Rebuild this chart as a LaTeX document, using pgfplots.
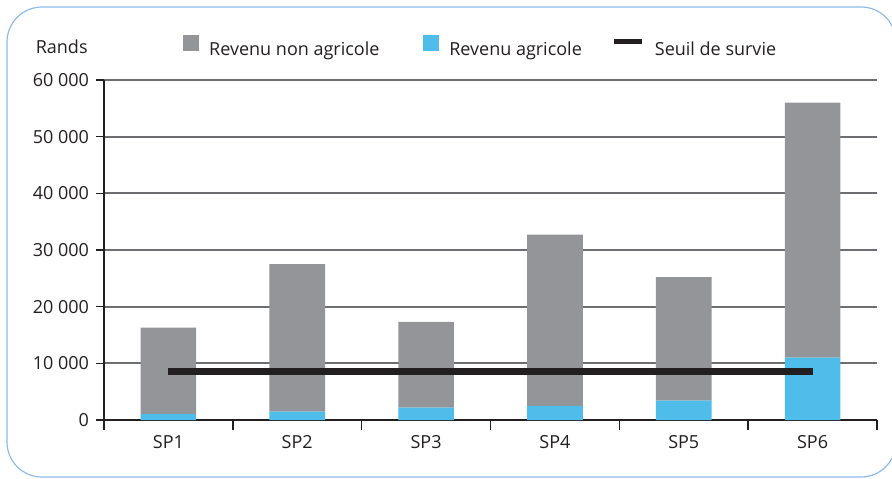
\documentclass[border=0pt]{standalone}
\usepackage{fontspec}
\setmainfont{Open Sans}
\usepackage{pgfplots}
\usepackage{pgfplotstable}
\pgfplotsset{compat=1.18}

\definecolor{nonagri}{HTML}{939598}
\definecolor{agri}{HTML}{4FBDE9}
\definecolor{seuil}{HTML}{231F20}
\definecolor{grille}{HTML}{6D6E71}
\definecolor{cadre}{HTML}{8DBCE8}

% revenus par systeme de production (rands)
\pgfplotstableread{
x lab agri nonagri
0 SP1 1100 15200
1 SP2 1500 26000
2 SP3 2200 15100
3 SP4 2500 30200
4 SP5 3400 21800
5 SP6 11000 45000
}\revenus

\begin{document}
\begin{tikzpicture}[font=\fontsize{9}{10.5}\selectfont, text=seuil]
\useasboundingbox (0,0) rectangle (446pt,239pt);
\clip (0,0) rectangle (446pt,239pt);
\draw[overlay, cadre, line width=0.6pt, rounded corners=17.5pt]
  (448pt,190pt) -- (448pt,235.5pt) -- (3.5pt,235.5pt) -- (3.5pt,0.5pt) -- (448pt,0.5pt) -- (448pt,50pt);

\begin{axis}[
 at={(52pt,29pt)}, anchor=south west,
 scale only axis, width=386.5pt, height=170pt,
 xmin=-0.5, xmax=5.5, ymin=0, ymax=60000,
 ybar stacked, bar width=0.432,
 axis lines*=left,
 axis line style={seuil, line width=0.75pt},
 tick align=outside, major tick length=4pt, minor tick length=5pt,
 tick style={seuil, line width=0.75pt},
 xtick={0,...,5}, xticklabels from table={\revenus}{lab},
 major x tick style={draw=none},
 minor xtick={-0.5,0.5,1.5,2.5,3.5,4.5,5.5},
 ytick={0,10000,...,60000},
 scaled y ticks=false,
 yticklabel style={/pgf/number format/.cd, fixed, 1000 sep={\ }, assume math mode=true},
 ymajorgrids, grid style={grille, line width=0.85pt},
 every axis y label/.style={at={(axis description cs:-0.0207,1.079)}, anchor=base east, inner sep=0pt},
 ylabel={Rands},
 legend columns=3,
 legend style={draw=none, fill=none, inner sep=0pt,
   at={(axis description cs:0.1022,1.0985)}, anchor=west,
   nodes={inner sep=0pt},
   /tikz/every odd column/.style={column sep=5pt},
   /tikz/every even column/.style={column sep=15pt}},
]
\addlegendimage{legend image code/.code={\fill[nonagri] (0pt,0pt) rectangle (7.5pt,7.5pt);}}
\addlegendentry{Revenu non agricole\hspace*{7pt}}
\addlegendimage{legend image code/.code={\fill[agri] (0pt,0pt) rectangle (7.5pt,7.5pt);}}
\addlegendentry{Revenu agricole}
\addlegendimage{legend image code/.code={\draw[seuil, line width=2.5pt] (0pt,4.5pt) -- (14pt,4.5pt);}}
\addlegendentry{Seuil de survie}

\addplot[fill=agri, draw=none] table[x=x, y=agri] {\revenus};
\addplot[fill=nonagri, draw=none] table[x=x, y=nonagri] {\revenus};
\end{axis}

\begin{axis}[
 at={(52pt,29pt)}, anchor=south west,
 scale only axis, width=386.5pt, height=170pt,
 xmin=-0.5, xmax=5.5, ymin=0, ymax=60000,
 hide axis,
]
\addplot[seuil, line width=3.5pt, no markers] coordinates {(0,8500) (5,8500)};
\end{axis}
\end{tikzpicture}
\end{document}
